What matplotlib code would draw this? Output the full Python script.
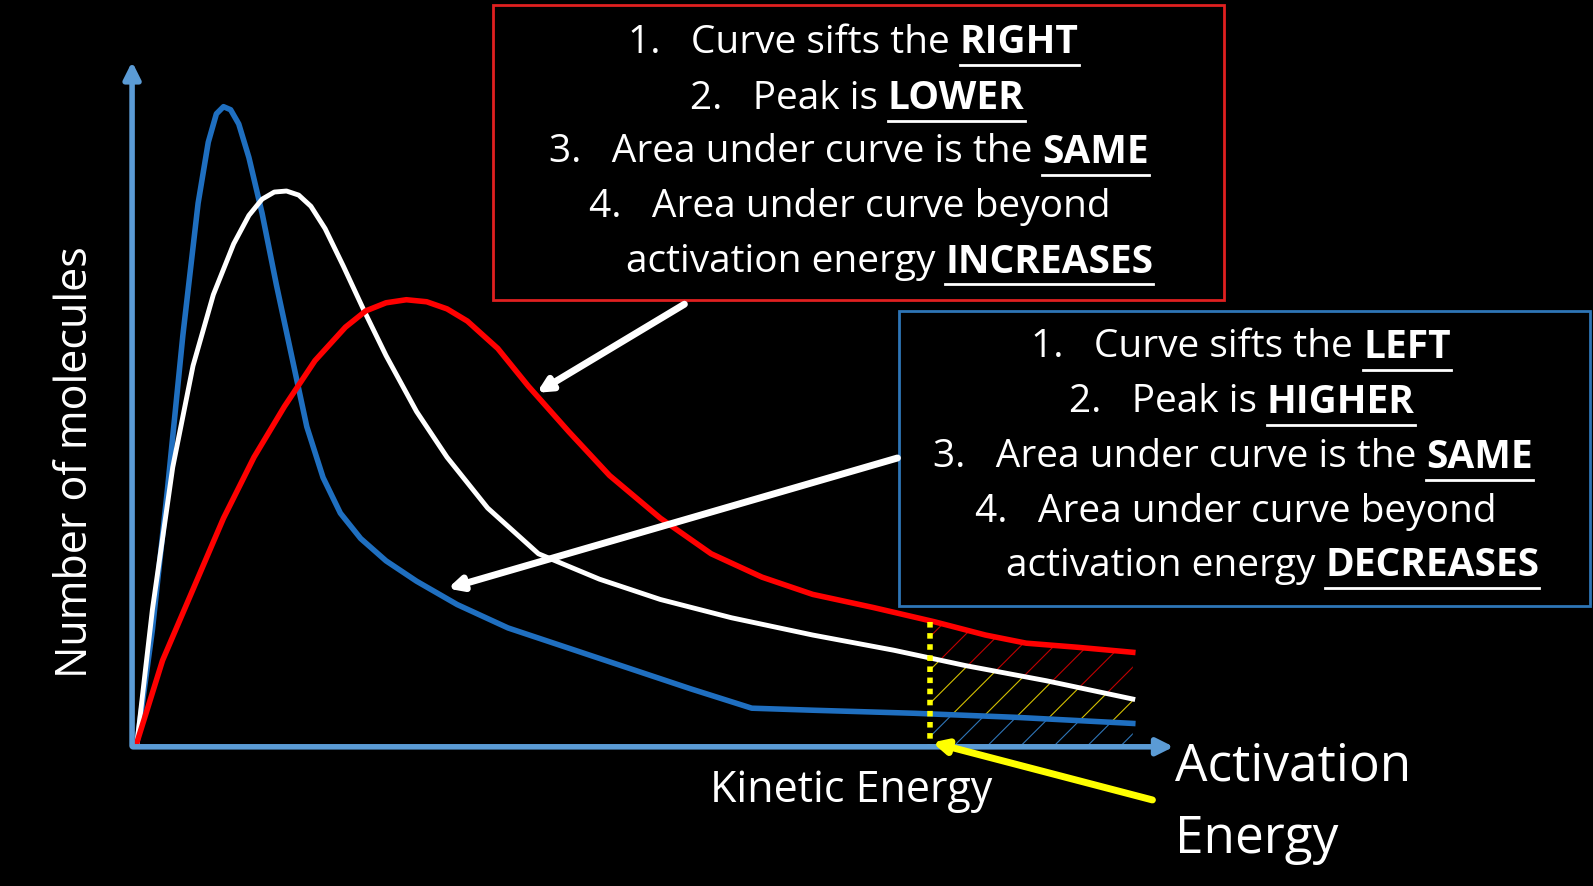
import matplotlib
matplotlib.use("Agg")
import matplotlib.pyplot as plt
import numpy as np

plt.rcParams['font.family'] = ['Open Sans', 'DejaVu Sans']

blue_x = [135,150,165,180,195,205,213,220,227,235,245,258,272,287,302,318,335,355,380,410,450,500,560,620,680,740,800,900,1000,1115]
blue_y = [730,620,480,330,200,140,112,105,108,122,155,210,280,350,420,470,505,530,552,572,595,618,638,658,678,697,699,702,706,712]
white_x = [135,150,170,190,210,230,245,258,270,282,294,306,320,338,358,380,410,440,480,530,590,650,720,800,880,950,1030,1115]
white_y = [730,600,460,360,290,240,212,196,189,188,192,203,225,262,305,350,405,450,500,545,570,590,608,625,640,655,670,688]
red_x = [135,160,190,220,250,280,310,340,360,380,400,420,440,460,490,520,560,600,650,700,750,800,860,920,970,1010,1060,1115]
red_y = [730,650,580,510,450,400,355,322,306,298,295,297,304,316,343,380,425,468,510,545,568,585,598,612,625,633,637,642]
ea_x = 915

fig = plt.figure(figsize=(15.93, 8.86), dpi=100, facecolor='black')
ax = fig.add_axes([0, 0, 1, 1])
ax.set_facecolor('black')
ax.set_xlim(0, 1568); ax.set_ylim(872, 0); ax.axis('off')

axc = '#5b9bd5'
ax.annotate('', xy=(130, 58), xytext=(130, 737), arrowprops=dict(arrowstyle='-|>,head_width=0.5,head_length=1', color=axc, lw=4))
ax.annotate('', xy=(1158, 735), xytext=(128, 735), arrowprops=dict(arrowstyle='-|>,head_width=0.5,head_length=1', color=axc, lw=4))

xs = np.linspace(ea_x, 1115, 60)
rb = np.interp(xs, red_x, red_y); wb = np.interp(xs, white_x, white_y); bb = np.interp(xs, blue_x, blue_y)
plt.rcParams['hatch.linewidth'] = 0.8
ax.fill_between(xs, rb, wb, facecolor='none', edgecolor='#c00000', hatch='/', lw=0)
ax.fill_between(xs, wb, bb, facecolor='none', edgecolor='#d4c000', hatch='/', lw=0)
ax.fill_between(xs, bb, 733, facecolor='none', edgecolor='#2e75b6', hatch='/', lw=0)

ax.plot(blue_x, blue_y, color='#1f6fc0', lw=4, solid_joinstyle='round')
ax.plot(white_x, white_y, color='white', lw=3.5, solid_joinstyle='round')
ax.plot(red_x, red_y, color='#ff0000', lw=4, solid_joinstyle='round')
ax.plot([ea_x, ea_x], [612, 733], color='#ffff00', lw=4, ls=(0, (1, 1)))

ax.annotate('', xy=(915, 730), xytext=(1137, 788), arrowprops=dict(arrowstyle='-|>,head_width=0.4,head_length=0.8', color='#ffff00', lw=5))
ax.annotate('', xy=(526, 388), xytext=(676, 298), arrowprops=dict(arrowstyle='-|>,head_width=0.4,head_length=0.8', color='white', lw=5))
ax.annotate('', xy=(438, 580), xytext=(886, 450), arrowprops=dict(arrowstyle='-|>,head_width=0.4,head_length=0.8', color='white', lw=5))

ax.add_patch(plt.Rectangle((485, 5), 720, 290, fill=False, ec='#e02020', lw=2))
ax.add_patch(plt.Rectangle((885, 306), 680, 290, fill=False, ec='#2e75b6', lw=2))

fs = 28
red_lines = [(618, 42, "1.   Curve sifts the ", "RIGHT"),
             (679, 97, "2.   Peak is ", "LOWER"),
             (540, 150, "3.   Area under curve is the ", "SAME"),
             (580, 204, "4.   Area under curve beyond", ""),
             (616, 258, "activation energy ", "INCREASES")]
blue_lines = [(1015, 342, "1.   Curve sifts the ", "LEFT"),
              (1052, 396, "2.   Peak is ", "HIGHER"),
              (918, 450, "3.   Area under curve is the ", "SAME"),
              (960, 504, "4.   Area under curve beyond", ""),
              (990, 557, "activation energy ", "DECREASES")]
fig.canvas.draw()
r = fig.canvas.get_renderer()
inv = ax.transData.inverted()
for x, y, plain, bold in red_lines + blue_lines:
    t = ax.text(x, y, plain, color='white', fontsize=fs, va='center', ha='left')
    if bold:
        bb_ = t.get_window_extent(r)
        x2 = inv.transform((bb_.x1, bb_.y0))[0]
        tb = ax.text(x2, y, bold, color='white', fontsize=fs, fontweight='bold', va='center', ha='left')
        b2 = tb.get_window_extent(r)
        xa = inv.transform((b2.x0, 0))[0]; xb = inv.transform((b2.x1, 0))[0]
        ax.plot([xa, xb], [y + 22, y + 22], color='white', lw=2)

ax.text(75, 455, "Number of molecules", color='white', fontsize=31, rotation=90, ha='center', va='center')
ax.text(838, 778, "Kinetic Energy", color='white', fontsize=31, ha='center', va='center')
ax.text(1157, 755, "Activation", color='white', fontsize=37, ha='left', va='center')
ax.text(1157, 826, "Energy", color='white', fontsize=37, ha='left', va='center')

fig.savefig('out.png', dpi=100, facecolor='black')
